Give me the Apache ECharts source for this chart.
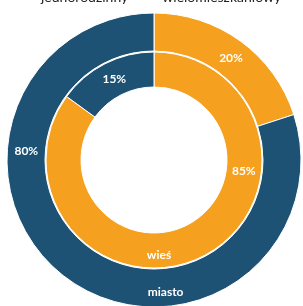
<!DOCTYPE html>
<html>
<head>
<meta charset="utf-8">
<script src="https://cdn.jsdelivr.net/npm/echarts@6/dist/echarts.min.js"></script>
<style>
  html, body { margin: 0; padding: 0; background: #fff; }
  #main { width: 303px; height: 306px; }
</style>
</head>
<body>
<div id="main"></div>
<script>
// dane
var categories = ["jednorodzinny", "wielomieszkaniowy"];
var rings = ["wieś", "miasto"];
var wiesValues = [85, 15];
var miastoValues = [20, 80];

// wygląd
var colors = ["#F5A01E", "#1D5275"];
var legendColors = ["#F5A01E", "#9DC3E6"];
var cx = 154, cy = 160;
var innerRadius = [73, 108];
var outerRadius = [109, 147];
// kąty etykiet (stopnie od góry, zgodnie z zegarem)
var wiesLabelAngles = [97, 334];
var miastoLabelAngles = [37, 274];
var ringNameAngles = [177, 175];

function polar(r, deg) {
  var a = deg * Math.PI / 180;
  return [cx + r * Math.sin(a), cy - r * Math.cos(a)];
}

function makeData(values) {
  return values.map(function (v, i) {
    return { name: categories[i], value: v, itemStyle: { color: colors[i] } };
  });
}

var labelStyle = {
  show: true,
  position: "inside",
  color: "#fff",
  fontFamily: "Lato",
  fontWeight: "bold",
  fontSize: 12,
  formatter: "{c}%"
};

var chart = echarts.init(document.getElementById("main"));
var option = {
  animation: false,
  legend: {
    top: -10,
    left: 29,
    width: 300,
    padding: 0,
    itemWidth: 7,
    itemHeight: 7,
    itemGap: 22,
    textStyle: { fontFamily: "Lato", fontSize: 14, color: "#222", padding: [0, 0, 0, -1] },
    data: categories.map(function (c, i) {
      return { name: c, icon: "rect", itemStyle: { color: legendColors[i] } };
    })
  },
  series: [
    {
      name: rings[0],
      type: "pie",
      center: [cx, cy],
      radius: innerRadius,
      startAngle: 90,
      clockwise: true,
      itemStyle: { borderColor: "#fff", borderWidth: 1 },
      label: labelStyle,
      labelLine: { show: false },
      labelLayout: function (p) {
        var pt = polar((innerRadius[0] + innerRadius[1]) / 2, wiesLabelAngles[p.dataIndex]);
        return { x: pt[0], y: pt[1], align: "center", verticalAlign: "middle" };
      },
      data: makeData(wiesValues)
    },
    {
      name: rings[1],
      type: "pie",
      center: [cx, cy],
      radius: outerRadius,
      startAngle: 90,
      clockwise: true,
      itemStyle: { borderColor: "#fff", borderWidth: 1 },
      label: labelStyle,
      labelLine: { show: false },
      labelLayout: function (p) {
        var pt = polar((outerRadius[0] + outerRadius[1]) / 2, miastoLabelAngles[p.dataIndex]);
        return { x: pt[0], y: pt[1], align: "center", verticalAlign: "middle" };
      },
      data: makeData(miastoValues)
    }
  ],
  graphic: [
    { r: (innerRadius[0] + innerRadius[1]) / 2 + 5, a: ringNameAngles[0], name: rings[0] },
    { r: (outerRadius[0] + outerRadius[1]) / 2 + 5, a: ringNameAngles[1], name: rings[1] }
  ].map(function (g) {
    var pt = polar(g.r, g.a);
    return {
      type: "text",
      x: pt[0],
      y: pt[1],
      z: 100,
      style: {
        text: g.name,
        fill: "#fff",
        font: "bold 12px Lato",
        align: "center",
        verticalAlign: "middle"
      }
    };
  })
};
chart.setOption(option);
</script>
</body>
</html>
